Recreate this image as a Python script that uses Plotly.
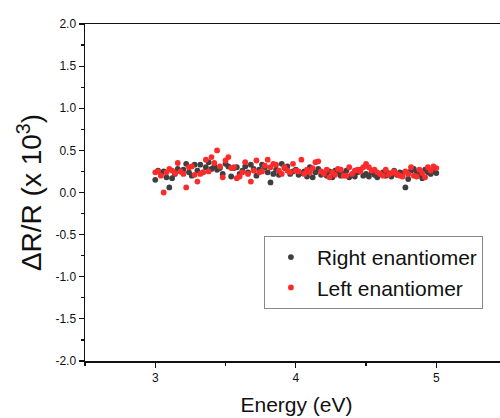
import plotly.graph_objects as go

energy = [round(3.0 + 0.02 * i, 2) for i in range(101)]

right_enantiomer = [
    0.15, 0.26, 0.22, 0.25, 0.18, 0.06, 0.17, 0.22, 0.28, 0.25,
    0.27, 0.34, 0.24, 0.20, 0.33, 0.26, 0.33, 0.24, 0.30, 0.36,
    0.28, 0.31, 0.27, 0.29, 0.22, 0.34, 0.31, 0.19, 0.29, 0.30,
    0.22, 0.26, 0.31, 0.24, 0.33, 0.28, 0.20, 0.27, 0.33, 0.30,
    0.24, 0.12, 0.22, 0.27, 0.21, 0.34, 0.29, 0.31, 0.22, 0.25,
    0.27, 0.21, 0.23, 0.25, 0.19, 0.30, 0.18, 0.24, 0.28, 0.21,
    0.23, 0.20, 0.25, 0.18, 0.26, 0.23, 0.20, 0.22, 0.26, 0.18,
    0.21, 0.19, 0.24, 0.27, 0.20, 0.22, 0.19, 0.24, 0.21, 0.18,
    0.22, 0.24, 0.20, 0.23, 0.19, 0.26, 0.21, 0.24, 0.23, 0.06,
    0.16, 0.26, 0.28, 0.24, 0.21, 0.17, 0.27, 0.24, 0.22, 0.25,
    0.23,
]

left_enantiomer = [
    0.24, 0.25, 0.20, 0.00, 0.24, 0.28, 0.26, 0.23, 0.35, 0.25,
    0.22, 0.06, 0.30, 0.31, 0.21, 0.13, 0.22, 0.24, 0.39, 0.25,
    0.42, 0.35, 0.50, 0.31, 0.18, 0.38, 0.42, 0.29, 0.30, 0.17,
    0.19, 0.24, 0.36, 0.22, 0.13, 0.26, 0.38, 0.24, 0.25, 0.32,
    0.39, 0.30, 0.34, 0.33, 0.26, 0.22, 0.30, 0.26, 0.24, 0.34,
    0.26, 0.25, 0.39, 0.22, 0.27, 0.24, 0.29, 0.36, 0.37, 0.25,
    0.22, 0.27, 0.18, 0.24, 0.21, 0.28, 0.27, 0.20, 0.20, 0.30,
    0.22, 0.26, 0.27, 0.25, 0.30, 0.34, 0.30, 0.26, 0.27, 0.24,
    0.22, 0.20, 0.27, 0.21, 0.23, 0.25, 0.22, 0.20, 0.19, 0.25,
    0.22, 0.30, 0.20, 0.19, 0.27, 0.23, 0.18, 0.30, 0.26, 0.31,
    0.29,
]

x_tickvals = [3, 4, 5]
x_ticktext = ["3", "4", "5"]
y_tickvals = [-2.0, -1.5, -1.0, -0.5, 0.0, 0.5, 1.0, 1.5, 2.0]
y_ticktext = ["-2.0", "-1.5", "-1.0", "-0.5", "0.0", "0.5", "1.0", "1.5", "2.0"]

FONT = "Liberation Sans, Arial, sans-serif"

fig = go.Figure()
fig.add_trace(go.Scatter(
    x=energy, y=right_enantiomer, mode="markers", name="Right enantiomer",
    marker=dict(color="#3f3f3f", size=5.8, line=dict(width=0)),
))
fig.add_trace(go.Scatter(
    x=energy, y=left_enantiomer, mode="markers", name="Left enantiomer",
    marker=dict(color="#ff2a2a", size=5.8, line=dict(width=0)),
))

# The original figure is cropped on its right side: the plot frame runs past the window edge.
fig.update_layout(
    width=508, height=418,
    margin=dict(l=85, r=0, t=24, b=57, autoexpand=False),
    paper_bgcolor="white", plot_bgcolor="white",
    font=dict(family=FONT, color="#111111"),
    hovermode=False, dragmode=False,
    showlegend=True,
    legend=dict(
        x=0.423, y=0.371, xanchor="left", yanchor="top",
        bgcolor="white", bordercolor="#888888", borderwidth=1,
        font=dict(size=21, family=FONT, color="#111111"),
        itemwidth=42, tracegroupgap=0,
    ),
    xaxis=dict(
        range=[2.5, 5.51], showgrid=False, zeroline=False, automargin=False,
        showline=True, linecolor="#111111", linewidth=1.5, mirror=True,
        showspikes=False,
        ticks="outside", ticklen=5, tickwidth=1.2, tickcolor="#111111",
        tickvals=x_tickvals, ticktext=x_ticktext,
        tickfont=dict(size=12, family=FONT),
        minor=dict(ticks="outside", ticklen=3, tickwidth=1.2, tickcolor="#111111",
                   dtick=0.5, tick0=2.5, showgrid=False),
        title=dict(text="Energy (eV)", font=dict(size=21, family=FONT), standoff=13),
    ),
    yaxis=dict(
        range=[-2.0, 2.0], showgrid=False, zeroline=False, automargin=False,
        showline=True, linecolor="#111111", linewidth=1.5, mirror=False,
        showspikes=False,
        ticks="outside", ticklen=5, tickwidth=1.2, tickcolor="#111111",
        tickvals=y_tickvals, ticktext=y_ticktext,
        tickfont=dict(size=12, family=FONT),
        minor=dict(ticks="outside", ticklen=3, tickwidth=1.2, tickcolor="#111111",
                   dtick=0.25, tick0=0, showgrid=False),
        title=dict(text="ΔR/R (x 10<sup>3</sup>)", font=dict(size=28, family=FONT), standoff=5),
    ),
)

fig.write_html(
    "out.html",
    config={"displayModeBar": False, "staticPlot": True},
    post_script=(
        "document.body.style.margin='0';"
        "document.body.style.overflow='hidden';"
        "document.documentElement.style.overflow='hidden';"
    ),
)
